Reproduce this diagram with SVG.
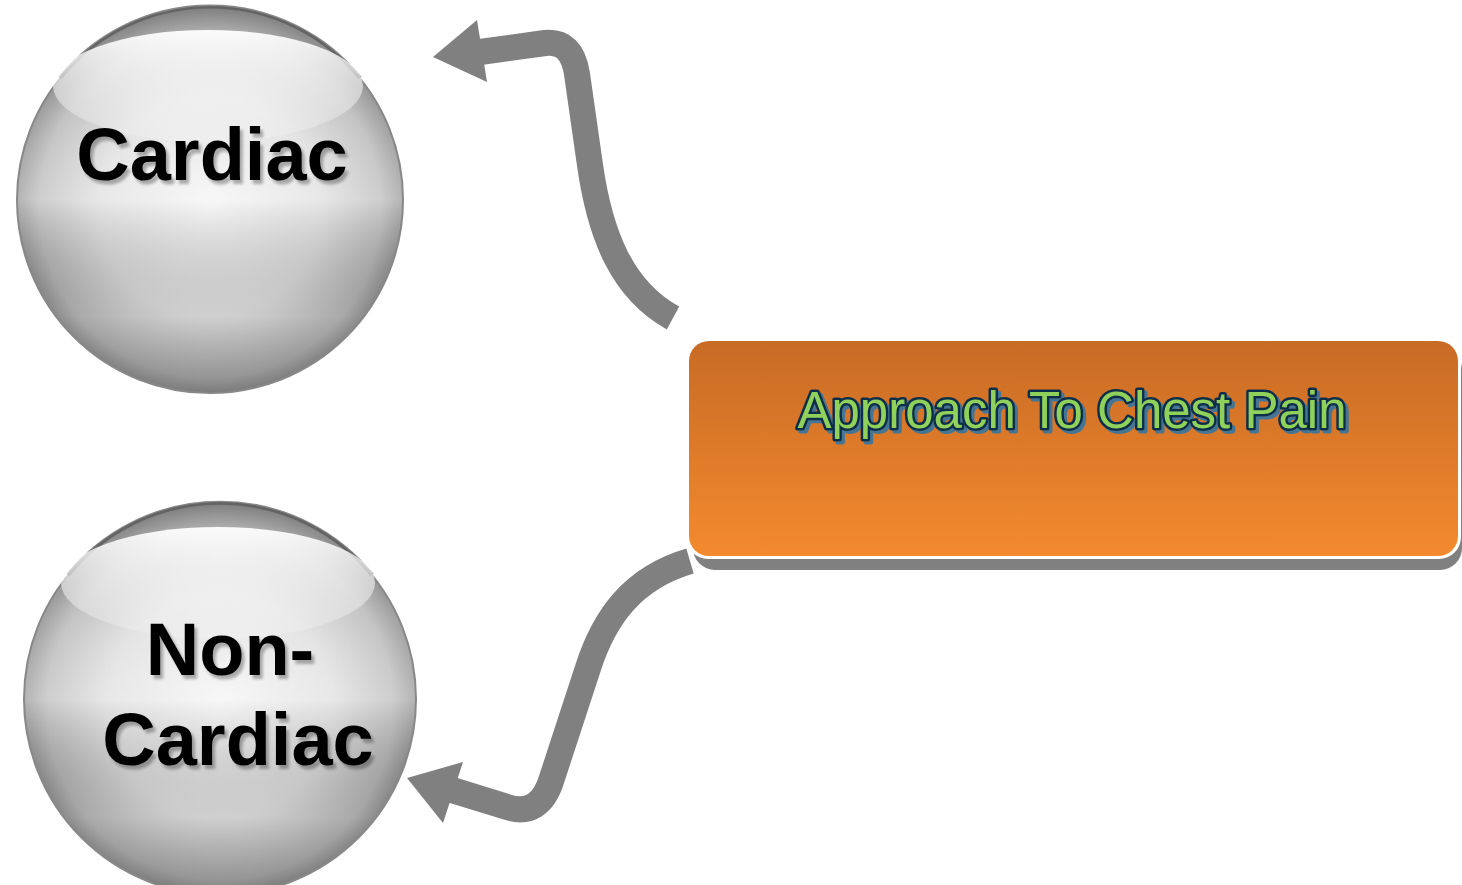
<svg xmlns="http://www.w3.org/2000/svg" width="1462" height="885" viewBox="0 0 1462 885">
<defs>
<style>
.lbl{font-family:"Liberation Sans",Arial,sans-serif;font-weight:bold;font-size:74px;fill:#000;text-anchor:middle;filter:url(#tsh)}
.title{font-family:"Liberation Sans",Arial,sans-serif;font-size:51px;text-anchor:middle;paint-order:stroke;stroke-linejoin:round;fill:#8fd15a;stroke:#0f2d4a;stroke-width:5;filter:url(#tsh2)}
.conn{fill:none;stroke:#808080;stroke-width:26}
.head{fill:#808080}
</style>
<filter id="tsh" x="-10%" y="-20%" width="120%" height="150%">
<feGaussianBlur in="SourceAlpha" stdDeviation="1.5"/>
<feOffset dx="3" dy="4" result="o"/>
<feComponentTransfer><feFuncA type="linear" slope="0.3"/></feComponentTransfer>
<feMerge><feMergeNode/><feMergeNode in="SourceGraphic"/></feMerge>
</filter>
<filter id="tsh2" x="-10%" y="-20%" width="120%" height="150%">
<feOffset in="SourceAlpha" dx="3" dy="3"/>
<feComponentTransfer><feFuncR type="linear" slope="0" intercept="0.06"/><feFuncG type="linear" slope="0" intercept="0.18"/><feFuncB type="linear" slope="0" intercept="0.29"/></feComponentTransfer>
<feMerge><feMergeNode/><feMergeNode in="SourceGraphic"/></feMerge>
</filter>
<radialGradient id="sph" cx="50%" cy="52%" r="52%">
<stop offset="0" stop-color="#f4f4f4"/>
<stop offset="0.55" stop-color="#dcdcdc"/>
<stop offset="0.85" stop-color="#b4b4b4"/>
<stop offset="1" stop-color="#7e7e7e"/>
</radialGradient>
<linearGradient id="sphv" x1="0" y1="0" x2="0" y2="1">
<stop offset="0" stop-color="#ffffff" stop-opacity="0"/>
<stop offset="0.5" stop-color="#ffffff" stop-opacity="0.35"/>
<stop offset="0.8" stop-color="#000000" stop-opacity="0.06"/>
<stop offset="1" stop-color="#000000" stop-opacity="0.2"/>
</linearGradient>
<linearGradient id="hl" x1="0" y1="0" x2="0" y2="1">
<stop offset="0" stop-color="#ffffff" stop-opacity="0.95"/>
<stop offset="1" stop-color="#ffffff" stop-opacity="0.15"/>
</linearGradient>
<linearGradient id="org" x1="0" y1="0" x2="0" y2="1">
<stop offset="0" stop-color="#c86b25"/>
<stop offset="1" stop-color="#f38a2e"/>
</linearGradient>
</defs>
<rect width="1462" height="885" fill="#ffffff"/>

<g id="connectors">
<path class="conn" d="M 673 318 C 622 290 600 235 590 165 L 577 74 Q 572 40 545 43 L 480 52"/>
<polygon class="head" points="433,57 477,20 487,82"/>
<path class="conn" d="M 690 561 C 632 578 604 618 588 668 L 552 778 Q 540 818 507 807 L 452 790"/>
<polygon class="head" points="407,778 463,762 443,823"/>
</g>

<g id="node-cardiac">
<circle cx="210" cy="200" r="193" fill="url(#sph)"/>
<circle cx="210" cy="200" r="193" fill="url(#sphv)"/>
<circle cx="210" cy="200" r="193" fill="none" stroke="#888" stroke-width="2"/>
<path d="M 60 78 A 193 193 0 0 1 360 78" fill="none" stroke="#555" stroke-width="4" stroke-opacity="0.7"/>
<ellipse cx="208" cy="86" rx="155" ry="56" fill="url(#hl)"/>
<text class="lbl" x="212" y="180">Cardiac</text>
</g>

<g id="node-noncardiac">
<circle cx="220" cy="699" r="196" fill="url(#sph)"/>
<circle cx="220" cy="699" r="196" fill="url(#sphv)"/>
<circle cx="220" cy="699" r="196" fill="none" stroke="#888" stroke-width="2"/>
<path d="M 68 575 A 196 196 0 0 1 372 575" fill="none" stroke="#555" stroke-width="4" stroke-opacity="0.7"/>
<ellipse cx="218" cy="583" rx="157" ry="56" fill="url(#hl)"/>
<text class="lbl" x="230" y="675">Non-</text>
<text class="lbl" x="238" y="765">Cardiac</text>
</g>

<g id="node-approach">
<rect x="693" y="348" width="769" height="222" rx="22" fill="#808080"/>
<rect x="686" y="338" width="775" height="221" rx="22" fill="#ffffff"/>
<rect x="689" y="341" width="769" height="215" rx="20" fill="url(#org)"/>
<text class="title" x="1072" y="428">Approach To Chest Pain</text>
</g>
</svg>
